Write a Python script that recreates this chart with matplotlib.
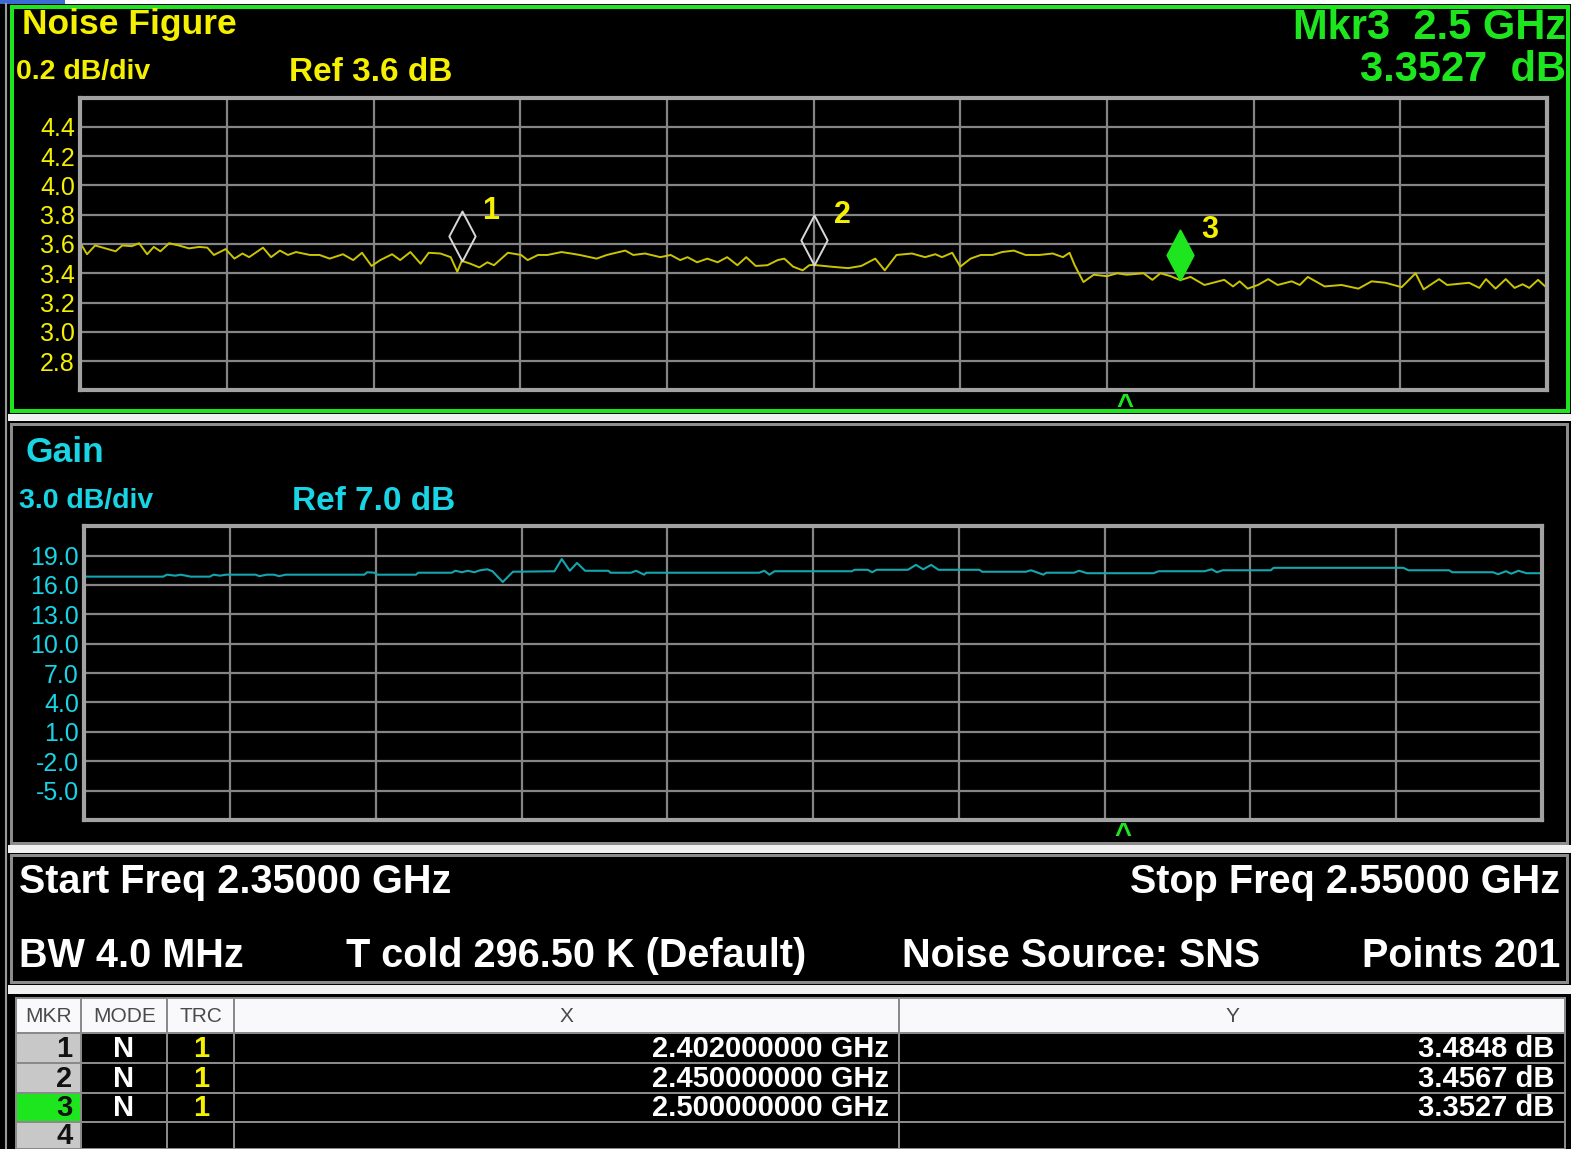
#!/usr/bin/env python3
"""
Noise-figure analyser screen: NF and gain sweep, 2.35-2.55 GHz.

Layout
------
Black instrument screen. Noise figure trace on top (yellow, green frame
because it is the active window), gain trace below (cyan), the sweep
settings block and the marker table at the bottom.

Output
------
./out.png
"""

import matplotlib

matplotlib.use("Agg")
import matplotlib.pyplot as plt
import numpy as np
from matplotlib.patches import Rectangle
from matplotlib.path import Path as MPath

SANS = ["Liberation Sans", "DejaVu Sans"]
NARROW = ["Liberation Sans Narrow", "Liberation Sans", "DejaVu Sans"]

matplotlib.rcParams.update({
    "font.family": SANS,
    "font.weight": "bold",
})

# screen coordinates the layout was measured in (scaled to the output)
SCREEN_W, SCREEN_H = 1568, 1142

START_GHZ, STOP_GHZ = 2.35, 2.55
N_POINTS = 201
BW_MHZ = 4.0
T_COLD_K = 296.50

NF_REF, NF_SCALE = 3.6, 0.2
GAIN_REF, GAIN_SCALE = 7.0, 3.0

NF_FREQ_MHZ = [
    2350.0, 2350.9, 2352.0, 2353.4, 2354.8, 2355.7, 2357.0, 2358.0, 2359.1,
    2360.0, 2360.9, 2362.1, 2363.4, 2364.8, 2366.2, 2367.3, 2368.2, 2369.8,
    2371.0, 2372.1, 2373.0, 2374.9, 2376.0, 2377.2, 2378.3, 2379.4, 2381.3,
    2382.6, 2384.0, 2385.8, 2387.2, 2388.4, 2389.7, 2390.9, 2392.5, 2393.6,
    2395.0, 2396.4, 2397.5, 2399.1, 2400.5, 2401.4, 2402.0, 2403.2, 2404.4,
    2405.5, 2406.4, 2408.3, 2410.1, 2411.0, 2412.4, 2413.7, 2415.6, 2416.9,
    2418.1, 2420.4, 2421.8, 2424.3, 2425.4, 2427.0, 2429.1, 2430.5, 2431.8,
    2432.8, 2434.1, 2435.5, 2436.9, 2438.2, 2439.6, 2440.8, 2442.1, 2443.7,
    2445.1, 2446.0, 2447.2, 2448.5, 2449.4, 2450.0, 2452.4, 2454.7, 2456.5,
    2458.4, 2459.7, 2461.3, 2463.4, 2465.2, 2466.6, 2467.5, 2468.9, 2470.0,
    2471.4, 2472.8, 2474.4, 2475.7, 2477.3, 2478.9, 2480.8, 2482.6, 2484.0,
    2484.9, 2485.6, 2486.8, 2488.2, 2490.0, 2491.4, 2492.7, 2495.0, 2496.2,
    2497.3, 2498.7, 2500.0, 2501.4, 2503.3, 2506.0, 2507.2, 2508.1, 2509.2,
    2510.6, 2512.0, 2513.3, 2515.2, 2516.3, 2517.4, 2519.7, 2522.0, 2524.3,
    2526.1, 2528.0, 2530.2, 2532.1, 2533.2, 2535.3, 2536.4, 2539.4, 2540.8,
    2541.7, 2543.0, 2544.4, 2545.6, 2546.7, 2547.6, 2548.8, 2550.0,
]
NF_DB = [
    3.605, 3.530, 3.590, 3.570, 3.550, 3.590, 3.585, 3.605, 3.530,
    3.580, 3.550, 3.605, 3.590, 3.570, 3.580, 3.575, 3.525, 3.565,
    3.500, 3.535, 3.510, 3.575, 3.510, 3.555, 3.525, 3.545, 3.525,
    3.525, 3.500, 3.530, 3.490, 3.540, 3.450, 3.490, 3.530, 3.490,
    3.545, 3.465, 3.540, 3.535, 3.510, 3.410, 3.485, 3.465, 3.440,
    3.475, 3.455, 3.540, 3.525, 3.490, 3.525, 3.525, 3.545, 3.535,
    3.525, 3.500, 3.525, 3.555, 3.525, 3.535, 3.510, 3.525, 3.490,
    3.510, 3.475, 3.500, 3.475, 3.510, 3.455, 3.510, 3.450, 3.455,
    3.490, 3.500, 3.445, 3.420, 3.455, 3.457, 3.445, 3.435, 3.450,
    3.500, 3.420, 3.525, 3.535, 3.510, 3.530, 3.510, 3.540, 3.445,
    3.500, 3.525, 3.525, 3.545, 3.555, 3.525, 3.525, 3.535, 3.510,
    3.540, 3.455, 3.340, 3.390, 3.380, 3.400, 3.390, 3.400, 3.355,
    3.400, 3.380, 3.353, 3.375, 3.320, 3.355, 3.310, 3.345, 3.295,
    3.320, 3.360, 3.320, 3.345, 3.320, 3.375, 3.310, 3.320, 3.295,
    3.345, 3.335, 3.305, 3.400, 3.290, 3.360, 3.320, 3.335, 3.300,
    3.360, 3.295, 3.360, 3.300, 3.325, 3.300, 3.355, 3.300,
]

GAIN_FREQ_MHZ = [
    2350.0, 2360.8, 2361.3, 2362.5, 2363.2, 2364.6, 2367.2, 2367.7, 2368.6,
    2369.4, 2373.5, 2374.0, 2375.0, 2376.0, 2376.7, 2377.6, 2388.4, 2388.8,
    2389.8, 2390.2, 2395.5, 2395.8, 2400.4, 2400.9, 2401.8, 2402.6, 2403.5,
    2404.3, 2405.3, 2406.0, 2407.4, 2408.8, 2414.5, 2415.5, 2416.6, 2417.6,
    2418.7, 2421.9, 2422.2, 2425.0, 2425.7, 2426.8, 2427.1, 2442.6, 2443.3,
    2444.0, 2444.7, 2455.3, 2455.7, 2457.5, 2458.1, 2458.7, 2463.0, 2464.1,
    2465.1, 2466.2, 2467.2, 2472.8, 2473.2, 2479.2, 2479.9, 2481.6, 2482.0,
    2485.8, 2486.5, 2487.6, 2496.7, 2497.4, 2503.7, 2504.7, 2505.4, 2506.2,
    2512.8, 2513.2, 2531.0, 2531.7, 2537.3, 2537.7, 2543.3, 2544.0, 2545.1,
    2545.8, 2546.8, 2547.9, 2550.0,
]
GAIN_DB = [
    16.85, 16.85, 17.05, 16.95, 17.05, 16.85, 16.85, 17.05, 16.95,
    17.05, 17.05, 16.90, 17.05, 17.05, 16.90, 17.05, 17.05, 17.30,
    17.25, 17.05, 17.05, 17.25, 17.25, 17.45, 17.30, 17.45, 17.30,
    17.50, 17.60, 17.40, 16.30, 17.35, 17.40, 18.65, 17.45, 18.25,
    17.45, 17.45, 17.25, 17.25, 17.45, 17.05, 17.25, 17.25, 17.45,
    17.05, 17.40, 17.40, 17.55, 17.55, 17.30, 17.55, 17.55, 18.05,
    17.60, 18.05, 17.55, 17.55, 17.35, 17.35, 17.50, 17.05, 17.25,
    17.25, 17.45, 17.20, 17.20, 17.40, 17.40, 17.60, 17.30, 17.50,
    17.50, 17.75, 17.75, 17.50, 17.50, 17.30, 17.30, 17.10, 17.40,
    17.15, 17.45, 17.20, 17.20,
]

NF_TICKS = [2.8, 3.0, 3.2, 3.4, 3.6, 3.8, 4.0, 4.2, 4.4]
GAIN_TICKS = [-5.0, -2.0, 1.0, 4.0, 7.0, 10.0, 13.0, 16.0, 19.0]

MARKER_IDS = ["1", "2", "3", "4"]
MARKER_MODE = ["N", "N", "N", ""]
MARKER_TRC = ["1", "1", "1", ""]
MARKER_FREQ_GHZ = [2.402, 2.450, 2.500]
MARKER_NF_DB = [3.4848, 3.4567, 3.3527]
ACTIVE_MARKER = 3
CARET_GHZ = 2.4925

YELLOW = "#f4f000"
NF_TRACE = "#cbc400"
GREEN = "#1ee61e"
CYAN = "#18d4e4"
GAIN_TRACE = "#14a6ae"
GRID = "#858585"
FRAME = "#a2a2a2"
PANEL_EDGE = "#8c8c8c"
SEPARATOR = "#f2f2f2"

PX = 72.0 / 100.0  # points per output pixel


def px_axes(x0, y0, x1, y1):
    return [x0 / SCREEN_W, 1 - y1 / SCREEN_H,
            (x1 - x0) / SCREEN_W, (y1 - y0) / SCREEN_H]


def style_trace_axes(ax, ylim, ticks, color, fmt):
    ax.set_facecolor("black")
    ax.set_xlim(START_GHZ, STOP_GHZ)
    ax.set_ylim(*ylim)
    ax.set_xticks(np.linspace(START_GHZ, STOP_GHZ, 11)[1:-1])
    ax.set_yticks(ticks)
    ax.set_yticklabels([fmt.format(t) for t in ticks], fontfamily=NARROW,
                       fontweight="normal")
    ax.tick_params(axis="x", length=0, labelbottom=False)
    ax.tick_params(axis="y", length=0, pad=4, labelsize=18, labelcolor=color)
    ax.grid(True, color=GRID, lw=1.6)
    ax.set_axisbelow(True)
    for sp in ax.spines.values():
        sp.set_color(FRAME)
        sp.set_linewidth(3.0)
    ax.annotate("^", xy=(CARET_GHZ, 0), xycoords=("data", "axes fraction"),
                xytext=(0, -1), textcoords="offset points", ha="center",
                va="top", color=GREEN, fontsize=21)


def plot_figure(output):
    fig = plt.figure(figsize=(15.77, 11.49), dpi=100, facecolor="white")

    bg = fig.add_axes([0, 0, 1, 1], zorder=0)
    bg.set_xlim(0, SCREEN_W)
    bg.set_ylim(SCREEN_H, 0)
    bg.axis("off")

    def rect(x0, y0, x1, y1, **kw):
        kw.setdefault("ec", "none")
        bg.add_patch(Rectangle((x0, y0), x1 - x0, y1 - y0, **kw))

    def label(x, y, s, **kw):
        kw.setdefault("va", "center")
        bg.text(x, y, s, **kw)

    # screen panels
    rect(0, 4, 1562, SCREEN_H, fc="black")
    rect(0, 0, 65, 4, fc="#3b6bd3")
    bg.plot([6, 6], [4, SCREEN_H], color="#9a9a9a", lw=1.5)
    rect(12, 7, 1559, 408, fc="black", ec=GREEN, lw=4 * PX)
    rect(8, 411, 1562, 418, fc=SEPARATOR)
    rect(11, 421, 1558, 838, fc="black", ec=PANEL_EDGE, lw=3 * PX)
    rect(8, 840, 1562, 848, fc=SEPARATOR)
    rect(11, 850, 1558, 976, fc="black", ec=PANEL_EDGE, lw=3 * PX)
    rect(8, 979, 1562, 988, fc=SEPARATOR)

    # noise figure window
    label(22, 24, "Noise Figure", color=YELLOW, fontsize=25.5)
    label(16, 72, f"{NF_SCALE:.1f} dB/div", color=YELLOW, fontsize=20.5)
    label(287, 72, f"Ref {NF_REF:.1f} dB", color=YELLOW, fontsize=24)
    i_act = ACTIVE_MARKER - 1
    label(1557, 28, f"Mkr{ACTIVE_MARKER}  {MARKER_FREQ_GHZ[i_act]:g} GHz",
          color=GREEN, fontsize=30, ha="right")
    label(1557, 70, f"{MARKER_NF_DB[i_act]:.4f}  dB", color=GREEN,
          fontsize=30, ha="right")

    ax_nf = fig.add_axes(px_axes(80, 97, 1538, 388), zorder=2)
    style_trace_axes(ax_nf, (NF_REF - 5 * NF_SCALE, NF_REF + 5 * NF_SCALE),
                     NF_TICKS, YELLOW, "{:.1f}")
    ax_nf.plot(np.array(NF_FREQ_MHZ) / 1000, NF_DB, color=NF_TRACE, lw=1.4)

    tip_diamond = MPath([(0, 0), (1, 1.9), (0, 3.8), (-1, 1.9), (0, 0)],
                        [MPath.MOVETO] + [MPath.LINETO] * 3 + [MPath.CLOSEPOLY])
    for i, (f, v) in enumerate(zip(MARKER_FREQ_GHZ, MARKER_NF_DB)):
        active = i == i_act
        ax_nf.plot([f], [v], marker=tip_diamond, ms=72,
                   mfc=GREEN if active else "none",
                   mec=GREEN if active else "#d8d8d8", mew=1.4, zorder=4)
        ax_nf.annotate(MARKER_IDS[i], xy=(f, v), xytext=(15, 36),
                       textcoords="offset points", ha="left", va="center",
                       color=YELLOW, fontsize=22, fontfamily=NARROW)

    # gain window
    label(25, 450, "Gain", color=CYAN, fontsize=25.5)
    label(19, 498, f"{GAIN_SCALE:.1f} dB/div", color=CYAN, fontsize=20.5)
    label(290, 498, f"Ref {GAIN_REF:.1f} dB", color=CYAN, fontsize=24)

    ax_g = fig.add_axes(px_axes(84, 523, 1533, 815), zorder=2)
    style_trace_axes(ax_g,
                     (GAIN_REF - 5 * GAIN_SCALE, GAIN_REF + 5 * GAIN_SCALE),
                     GAIN_TICKS, CYAN, "{:.1f}")
    ax_g.plot(np.array(GAIN_FREQ_MHZ) / 1000, GAIN_DB, color=GAIN_TRACE,
              lw=1.5)

    # sweep settings
    info = dict(color="white", fontsize=28.5)
    label(19, 877, f"Start Freq {START_GHZ:.5f} GHz", **info)
    label(1551, 877, f"Stop Freq {STOP_GHZ:.5f} GHz", ha="right", **info)
    label(19, 950, f"BW {BW_MHZ:.1f} MHz", **info)
    label(344, 950, f"T cold {T_COLD_K:.2f} K (Default)", **info)
    label(897, 950, "Noise Source: SNS", **info)
    label(1551, 950, f"Points {N_POINTS}", ha="right", **info)

    # marker table
    col_edges = [16, 81, 166, 233, 894, 1556]
    row_edges = [992, 1027, 1057, 1086, 1115, SCREEN_H]
    headers = ["MKR", "MODE", "TRC", "X", "Y"]
    for r in range(len(row_edges) - 1):
        y0, y1 = row_edges[r], row_edges[r + 1]
        for c in range(len(col_edges) - 1):
            x0, x1 = col_edges[c], col_edges[c + 1]
            if r == 0:
                fc = "#f9f9fc"
            elif c == 0:
                fc = GREEN if r == ACTIVE_MARKER else "#c8c8c8"
            else:
                fc = "black"
            rect(x0, y0, x1, y1, fc=fc, ec="#8a8a8a", lw=2 * PX)
    for c, h in enumerate(headers):
        label((col_edges[c] + col_edges[c + 1]) / 2, 1010, h,
              color="#4a4a4a", fontsize=15, ha="center",
              fontfamily=NARROW, fontweight="normal")

    cell = dict(fontsize=21, fontfamily=NARROW, fontweight="bold")
    for i, mk in enumerate(MARKER_IDS):
        yc = (row_edges[i + 1] + row_edges[i + 2]) / 2 + 1
        label(72, yc, mk, color="#111111", ha="right", **cell)
        label(123, yc, MARKER_MODE[i], color="white", ha="center", **cell)
        label(200, yc, MARKER_TRC[i], color=YELLOW, ha="center", **cell)
        if i < len(MARKER_FREQ_GHZ):
            label(884, yc, f"{MARKER_FREQ_GHZ[i]:.9f} GHz", color="white",
                  ha="right", **cell)
            label(1546, yc, f"{MARKER_NF_DB[i]:.4f} dB", color="white",
                  ha="right", **cell)

    fig.savefig(output, dpi=100, facecolor="white")
    print(f"Saved -> {output}")


def main():
    plot_figure("out.png")


if __name__ == "__main__":
    main()
